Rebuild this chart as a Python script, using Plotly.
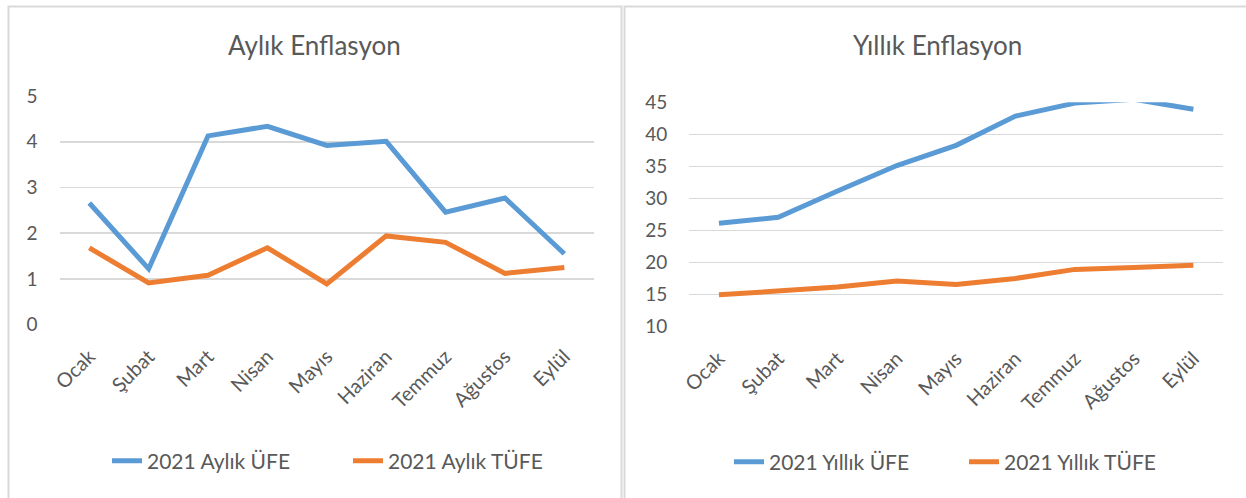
import plotly.graph_objects as go

months = ["Ocak", "Şubat", "Mart", "Nisan", "Mayıs", "Haziran", "Temmuz", "Ağustos", "Eylül"]
aylik_ufe = [2.66, 1.22, 4.13, 4.34, 3.92, 4.01, 2.46, 2.77, 1.55]
aylik_tufe = [1.68, 0.91, 1.08, 1.68, 0.89, 1.94, 1.80, 1.12, 1.25]
yillik_ufe = [26.16, 27.09, 31.20, 35.17, 38.33, 42.89, 44.92, 45.52, 43.96]
yillik_tufe = [14.97, 15.61, 16.19, 17.14, 16.59, 17.53, 18.95, 19.25, 19.58]

BLUE = "#5B9BD5"
ORANGE = "#ED7D31"
GRID = "#D9D9D9"
TXT = "#595959"
FONT = "Lato"
W, H = 1246, 498

def px(x):
    return x / W

def py(y):
    return 1 - y / H

fig = go.Figure()
fig.add_trace(go.Scatter(x=months, y=aylik_ufe, name="2021 Aylık ÜFE", mode="lines", cliponaxis=False,
                         line=dict(color=BLUE, width=5), xaxis="x", yaxis="y", legend="legend"))
fig.add_trace(go.Scatter(x=months, y=aylik_tufe, name="2021 Aylık TÜFE", mode="lines", cliponaxis=False,
                         line=dict(color=ORANGE, width=5), xaxis="x", yaxis="y", legend="legend"))
fig.add_trace(go.Scatter(x=months, y=yillik_ufe, name="2021 Yıllık ÜFE", mode="lines", cliponaxis=False,
                         line=dict(color=BLUE, width=5), xaxis="x2", yaxis="y2", legend="legend2"))
fig.add_trace(go.Scatter(x=months, y=yillik_tufe, name="2021 Yıllık TÜFE", mode="lines", cliponaxis=False,
                         line=dict(color=ORANGE, width=5), xaxis="x2", yaxis="y2", legend="legend2"))

xcommon = dict(showgrid=False, zeroline=False, showline=False, tickangle=-45, automargin=False,
               range=[-0.5, len(months) - 0.5],
               tickfont=dict(family=FONT, size=20, color=TXT), ticks="", ticklabelstandoff=15,
               fixedrange=True)
ycommon = dict(showgrid=True, gridcolor=GRID, gridwidth=1.5, zeroline=False, showline=False,
               automargin=False, fixedrange=True,
               tickfont=dict(family=FONT, size=19, color=TXT), ticks="", ticklabelstandoff=21)

fig.update_layout(
    width=W, height=H,
    margin=dict(l=0, r=0, t=0, b=0, autoexpand=False),
    paper_bgcolor="white", plot_bgcolor="white",
    font=dict(family=FONT, color=TXT),
    hovermode=False,
    xaxis=dict(domain=[px(59.6), px(594)], anchor="y", **xcommon),
    yaxis=dict(domain=[py(325), py(95.7)], anchor="x", range=[-0.01, 5.01], dtick=1, **ycommon),
    xaxis2=dict(domain=[px(689.3), px(1223)], anchor="y2", **xcommon),
    yaxis2=dict(domain=[py(327), py(102.3)], anchor="x2", range=[9.95, 45.05], dtick=5, **ycommon),
    legend=dict(orientation="h", x=px(107), y=py(461), xanchor="left", yanchor="middle",
                font=dict(family=FONT, size=21, color=TXT), bgcolor="rgba(0,0,0,0)",
                itemwidth=30, entrywidth=196),
    legend2=dict(orientation="h", x=px(729), y=py(462), xanchor="left", yanchor="middle",
                 font=dict(family=FONT, size=21, color=TXT), bgcolor="rgba(0,0,0,0)",
                 itemwidth=30, entrywidth=190),
    annotations=[
        dict(text="Aylık Enflasyon", x=px(314), y=py(45), xref="paper", yref="paper",
             showarrow=False, font=dict(family=FONT, size=26, color=TXT), xanchor="center", yanchor="middle"),
        dict(text="Yıllık Enflasyon", x=px(937), y=py(45), xref="paper", yref="paper",
             showarrow=False, font=dict(family=FONT, size=26, color=TXT), xanchor="center", yanchor="middle"),
    ],
    shapes=[
        dict(type="rect", xref="paper", yref="paper", x0=px(8.5), x1=px(621.5), y0=-0.1, y1=py(6.5),
             line=dict(color=GRID, width=2), fillcolor="rgba(0,0,0,0)", layer="below"),
        dict(type="rect", xref="paper", yref="paper", x0=px(624.5), x1=1.1, y0=-0.1, y1=py(6.5),
             line=dict(color=GRID, width=2), fillcolor="rgba(0,0,0,0)", layer="below"),
    ],
)

fig.write_html("out.html", config={"displayModeBar": False, "staticPlot": True},
               post_script="document.body.style.margin='0';document.body.style.overflow='hidden';")
